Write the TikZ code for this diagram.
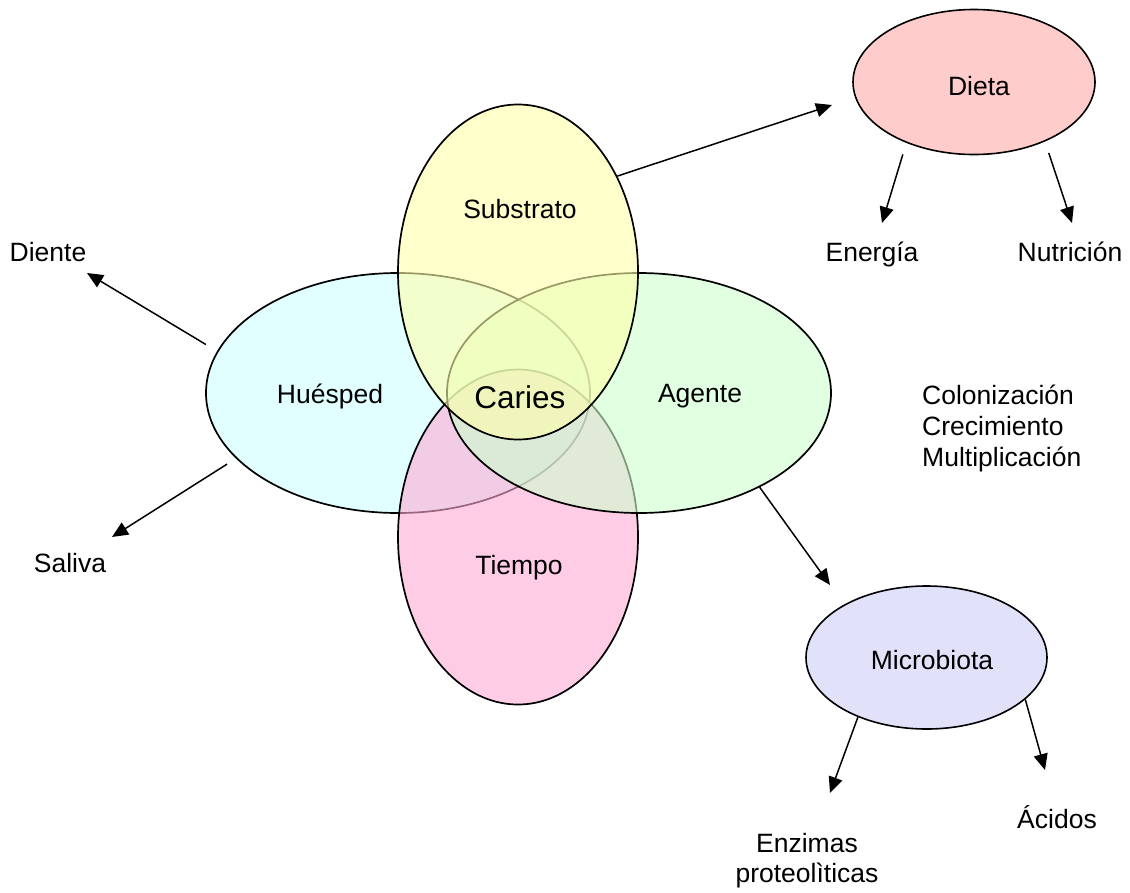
\documentclass[tikz,border=0pt]{standalone}
\usepackage{fontspec}
\setmainfont{Liberation Sans}
\usetikzlibrary{shapes.geometric,arrows.meta}
\definecolor{hueC}{RGB}{205,255,255}
\definecolor{ageC}{RGB}{205,255,205}
\definecolor{subC}{RGB}{255,255,170}
\definecolor{tieC}{RGB}{255,170,213}
\definecolor{dieC}{RGB}{255,204,204}
\definecolor{micC}{RGB}{225,225,250}
\begin{document}
\begin{tikzpicture}[x=1pt,y=-1pt,
  setell/.style={ellipse,draw=black,line width=1.7pt,fill opacity=0.6,inner sep=0pt},
  subell/.style={ellipse,draw=black,line width=1.6pt,inner sep=0pt},
  lbl/.style={font=\fontsize{26.5}{31}\selectfont,inner sep=0pt,anchor=base},
  arr/.style={line width=1.5pt,-{Triangle[length=16pt,width=14pt]}}]
\useasboundingbox (0,0) rectangle (1130,892);
% main sets
\node[setell,fill=hueC,minimum width=384pt,minimum height=240pt] (hue) at (398,393) {};
\node[setell,fill=tieC,minimum width=240pt,minimum height=335pt] (tie) at (518,537) {};
\node[setell,fill=ageC,minimum width=384pt,minimum height=240pt] (age) at (639,393) {};
\node[setell,fill=subC,minimum width=240pt,minimum height=335pt] (sub) at (518,272) {};
% satellite ellipses
\node[subell,fill=dieC,minimum width=242pt,minimum height=145pt] (die) at (974,82) {};
\node[subell,fill=micC,minimum width=241pt,minimum height=143pt] (mic) at (926.5,657.5) {};
% labels in sets
\node[lbl] (tsub) at (520,218) {Substrato};
\node[lbl] (thue) at (330,403) {Huésped};
\node[lbl] (tage) at (700,402) {Agente};
\node[lbl] (ttie) at (519,574) {Tiempo};
\node[lbl,font=\fontsize{31.5}{36}\selectfont] (tcar) at (520,408) {Caries};
\node[lbl] (tdie) at (979,95) {Dieta};
\node[lbl] (tmic) at (932,669) {Microbiota};
% outer labels
\node[lbl] (tdiente) at (48,261) {Diente};
\node[lbl] (tsaliva) at (70,572) {Saliva};
\node[lbl] (tener) at (872,261) {Energía};
\node[lbl] (tnutri) at (1070,261) {Nutrición};
\node[lbl,anchor=base west] (tcol) at (922,404) {Colonización};
\node[lbl,anchor=base west] (tcre) at (922,435) {Crecimiento};
\node[lbl,anchor=base west] (tmul) at (922,466) {Multiplicación};
\node[lbl] (tenz) at (807,852) {Enzimas};
\node[lbl] (tpro) at (807,882) {proteolìticas};
\node[lbl] (tacid) at (1057,828) {Ácidos};
% arrow tips
\coordinate (tipDieta) at (832,105);
\coordinate (tipDiente) at (87,273);
\coordinate (tipSaliva) at (112,537);
\coordinate (tipEner) at (882,223);
\coordinate (tipNutri) at (1072,223);
\coordinate (tipMicro) at (830,585);
\coordinate (tipEnz) at (830,793);
\coordinate (tipAcid) at (1045,770);
% connectors
\draw[arr] (sub.44) -- (tipDieta);
\draw[arr,shorten <=13pt] (hue.167.5) -- (tipDiente);
\draw[arr,shorten <=10.5pt] (hue.202.8) -- (tipSaliva);
\draw[arr,shorten <=12pt] (die.-138.5) -- (tipEner);
\draw[arr,shorten <=12pt] (die.-40.9) -- (tipNutri);
\draw[arr] (age.-38.6) -- (tipMicro);
\draw[arr] (mic.-139.6) -- (tipEnz);
\draw[arr] (mic.-23.8) -- (tipAcid);
\end{tikzpicture}
\end{document}
